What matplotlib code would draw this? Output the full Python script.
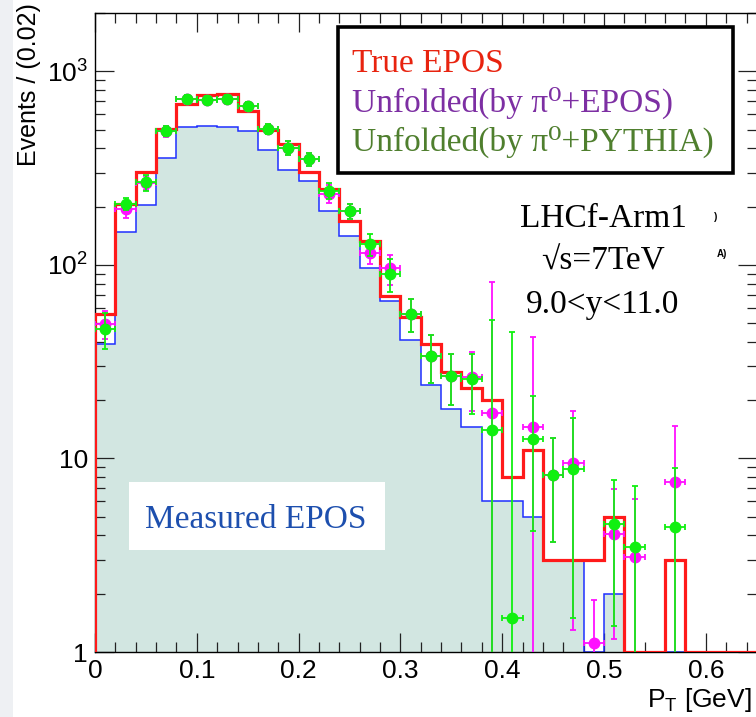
import numpy as np
import matplotlib
matplotlib.use("Agg")
import matplotlib.pyplot as plt
from matplotlib.ticker import FixedLocator, FixedFormatter, MultipleLocator, NullFormatter, FuncFormatter
from matplotlib.patches import Rectangle

plt.rcParams['font.family'] = ['Liberation Sans', 'DejaVu Sans']
plt.rcParams['mathtext.fontset'] = 'custom'
plt.rcParams['mathtext.rm'] = 'Liberation Sans'
plt.rcParams['mathtext.it'] = 'Liberation Sans:italic'
plt.rcParams['mathtext.bf'] = 'Liberation Sans:bold'

# ---------------- data ----------------
bin_edges = np.round(np.arange(0, 0.66 + 1e-9, 0.02), 2)          # 33 bins of 0.02 GeV
bin_centers = np.round((bin_edges[:-1] + bin_edges[1:]) / 2, 3)

true_epos = [56, 207, 301, 505, 676, 756, 765, 625, 499, 421, 302, 247, 169, 133,
             69, 54, 39, 28, 23, 20, 8, 11, 3, 3, 3, 5, 0, 0, 3, 0, 0, 0, 0]
measured_epos = [39, 148, 204, 356, 518, 525, 518, 493, 393, 309, 272, 191, 142, 96,
                 65, 41, 24, 18, 14.5, 6, 6, 5, 3, 3, 0, 2, 0, 0, 0, 0, 0, 0, 0]
unfold_epos = [49.6, 194, 265, 490, 718, 715, 718, 665, 507, 404, 352, 234, 189, 116,
               96, 56, 34, 26.8, 26.5, 17.1, 0, 14.5, 8.2, 9.5, 1.11, 4.07, 3.11, 0, 7.6, 0, 0, 0, 0]
unfold_epos_err = [8, 20, 22, 30, 35, 35, 35, 30, 30, 33, 28, 24, 17, 15,
                   17, 11, 9.5, 8, 8.8, 65, 0, 28, 4.5, 8.2, 0.75, 2.9, 3.1, 0, 7.1, 0, 0, 0, 0]
unfold_pythia = [46.7, 207, 267, 493, 720, 715, 720, 665, 507, 404, 352, 242, 189, 128,
                 89.8, 55.8, 34, 26.8, 25.8, 14.0, 1.5, 12.6, 8.2, 8.8, 0, 4.57, 3.5, 0, 4.44, 0, 0, 0, 0]
unfold_pythia_err = [10, 15, 25, 30, 35, 35, 35, 30, 30, 33, 28, 24, 17, 17,
                     17, 11, 9.5, 8, 8.8, 38, 43.5, 8.4, 4.5, 7.3, 0, 3.2, 3.7, 0, 4.5, 0, 0, 0, 0]

legend_labels = ["True EPOS", "Unfolded(by \u03c0\u2070+EPOS)", "Unfolded(by \u03c0\u2070+PYTHIA)"]
legend_colors = ["#e8230f", "#7d2fa3", "#4f7f2e"]
info_lines = ["LHCf-Arm1", "\u221as=7TeV", "9.0<y<11.0"]
x_ticks = [0, 0.1, 0.2, 0.3, 0.4, 0.5, 0.6]
y_ticks = [1, 10, 100, 1000]
y_tick_labels = ["1", "10", "$10^{2}$", "$10^{3}$"]

# ---------------- figure ----------------
W, H = 756, 717
fig = plt.figure(figsize=(W / 100, H / 100), dpi=100)
fig.patch.set_facecolor("white")
fig.patches.append(Rectangle((0, 0), 13 / W, 1, transform=fig.transFigure,
                             facecolor="#eef0f3", edgecolor="none", zorder=0))

def fx(x):
    return x / W

def fy(y):
    return 1 - y / H

ax_left, ax_top, ax_bottom = 95, 13, 652
ax = fig.add_axes([fx(ax_left), fy(ax_bottom), 661.7 / W, (ax_bottom - ax_top) / H])
ax.set_yscale("log")
ax.set_xlim(0, 0.65)
ax.set_ylim(1, 2005)

meas = np.clip(np.array(measured_epos, float), 1, None)
true = np.clip(np.array(true_epos, float), 1, None)

ax.stairs(meas, bin_edges, baseline=1, fill=True, color="#d2e6e1", zorder=1)
ax.stairs(meas, bin_edges, baseline=1, color="#1f2fff", lw=1.1, zorder=2)
ax.stairs(true, bin_edges, baseline=1, color="#ff1a1a", lw=2.3, zorder=3)

def draw_points(vals, errs, color, z):
    v = np.array(vals, float)
    e = np.array(errs, float)
    m = v > 0
    lo = np.minimum(e[m], v[m] - 1e-3)
    ax.errorbar(bin_centers[m], v[m], yerr=[lo, e[m]], xerr=0.01, fmt="o",
                color=color, ms=7.5, elinewidth=1.3, capsize=2.5, capthick=1.3,
                zorder=z, clip_on=True)

draw_points(unfold_epos, unfold_epos_err, "#ff10ff", 4)
draw_points(unfold_pythia, unfold_pythia_err, "#10f010", 5)

# ticks
ax.xaxis.set_major_locator(FixedLocator(x_ticks))
ax.xaxis.set_minor_locator(MultipleLocator(0.02))
ax.xaxis.set_major_formatter(FuncFormatter(lambda x, p: "0" if abs(x) < 1e-9 else f"{x:.1f}"))
ax.yaxis.set_major_locator(FixedLocator(y_ticks))
ax.yaxis.set_major_formatter(FixedFormatter(y_tick_labels))
minors = [m * 10 ** k for k in range(0, 4) for m in range(2, 10) if m * 10 ** k < 2005]
ax.yaxis.set_minor_locator(FixedLocator(minors))
ax.yaxis.set_minor_formatter(NullFormatter())
ax.tick_params(which="both", direction="in", top=True, right=True, width=0.9, color="#222222")
ax.tick_params(which="major", length=14, labelsize=19, pad=5)
ax.tick_params(which="minor", length=7)
for s in ax.spines.values():
    s.set_linewidth(1.0)

# axis titles
fig.text(fx(29), fy(3), "Events / (0.02)", rotation=90, ha="center", va="top", fontsize=18)
fig.text(fx(752), fy(707), r"P$_{\rm T}$ [GeV]", ha="right", va="baseline", fontsize=19)

serif = ["Liberation Serif", "DejaVu Serif"]

# legend box
fig.patches.append(Rectangle((fx(338), fy(173)), 395 / W, 146 / H, transform=fig.transFigure,
                             facecolor="white", edgecolor="black", lw=2.6, zorder=10))
for lab, col, yb in zip(legend_labels, legend_colors, [71.7, 111.7, 150.7]):
    fig.text(fx(352), fy(yb), lab, color=col, family=serif, fontsize=24,
             ha="left", va="baseline", zorder=11)

# info text
for line, yb in zip(info_lines, [227, 270, 313]):
    fig.text(fx(603), fy(yb), line, color="black", family=serif, fontsize=24,
             ha="center", va="baseline", zorder=11)
fig.text(fx(716), fy(220), ")", fontsize=7, fontweight="bold", ha="center", va="baseline")
fig.text(fx(722), fy(257), "A)", fontsize=7, fontweight="bold", ha="center", va="baseline")

# measured EPOS label box
fig.patches.append(Rectangle((fx(129), fy(550)), 256 / W, 68 / H, transform=fig.transFigure,
                             facecolor="white", edgecolor="none", zorder=1.5))
fig.text(fx(256), fy(528), "Measured EPOS", color="#1d4fae", family=serif, fontsize=24,
         ha="center", va="baseline", zorder=2)

fig.savefig("out.png", dpi=100)
